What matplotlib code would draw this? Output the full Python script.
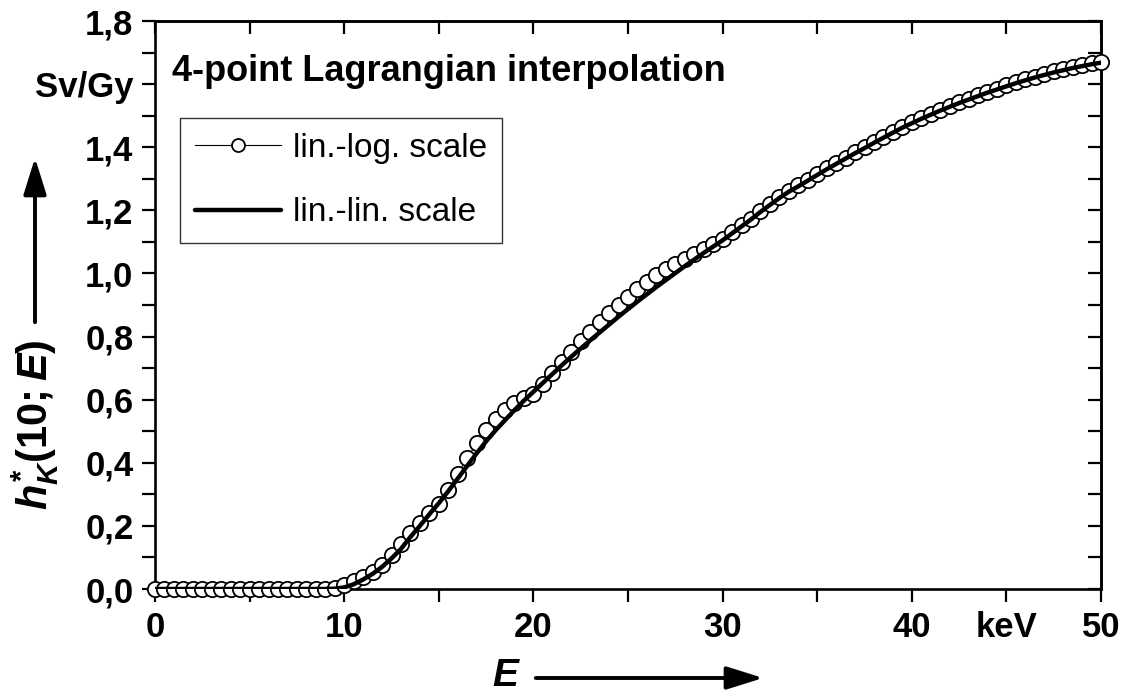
import matplotlib
matplotlib.use("Agg")
import matplotlib.pyplot as plt
import numpy as np

plt.rcParams['font.family'] = ['Liberation Sans', 'DejaVu Sans']
plt.rcParams['mathtext.fontset'] = 'custom'
plt.rcParams['mathtext.rm'] = 'Liberation Sans:bold'
plt.rcParams['mathtext.it'] = 'Liberation Sans:italic:bold'
plt.rcParams['mathtext.bf'] = 'Liberation Sans:bold'

# ---- data ----
energy = [i * 0.5 for i in range(101)]  # keV, 0 ... 50 in 0.5 steps

lin_log = [
    0.0, 0.0, 0.0, 0.0, 0.0, 0.0, 0.0, 0.0, 0.0, 0.0,          # 0.0 - 4.5
    0.0, 0.0, 0.0, 0.0, 0.0, 0.0, 0.0, 0.0, 0.0, 0.003,        # 5.0 - 9.5
    0.012, 0.024, 0.037, 0.053, 0.077, 0.107, 0.142, 0.178, 0.21, 0.24,   # 10.0 - 14.5
    0.268, 0.315, 0.365, 0.415, 0.462, 0.503, 0.54, 0.568, 0.59, 0.605,  # 15.0 - 19.5
    0.618, 0.65, 0.685, 0.718, 0.752, 0.785, 0.816, 0.847, 0.874, 0.9,   # 20.0 - 24.5
    0.926, 0.95, 0.973, 0.995, 1.013, 1.031, 1.047, 1.063, 1.077, 1.092, # 25.0 - 29.5
    1.108, 1.13, 1.152, 1.174, 1.198, 1.22, 1.242, 1.262, 1.279, 1.297,  # 30.0 - 34.5
    1.315, 1.333, 1.35, 1.367, 1.384, 1.4, 1.417, 1.433, 1.449, 1.465,   # 35.0 - 39.5
    1.479, 1.493, 1.506, 1.519, 1.531, 1.543, 1.554, 1.565, 1.576, 1.586, # 40.0 - 44.5
    1.596, 1.606, 1.615, 1.624, 1.632, 1.64, 1.647, 1.654, 1.66, 1.666,  # 45.0 - 49.5
    1.671,                                                              # 50.0
]

lin_lin = [
    0.0, 0.0, 0.0, 0.0, 0.0, 0.0, 0.0, 0.0, 0.0, 0.0,          # 0.0 - 4.5
    0.0, 0.0, 0.0, 0.0, 0.0, 0.0, 0.0, 0.0, 0.0, 0.001,        # 5.0 - 9.5
    0.005, 0.015, 0.03, 0.048, 0.07, 0.097, 0.127, 0.165, 0.2, 0.237,    # 10.0 - 14.5
    0.272, 0.31, 0.35, 0.39, 0.43, 0.468, 0.503, 0.535, 0.567, 0.597,    # 15.0 - 19.5
    0.625, 0.653, 0.681, 0.709, 0.736, 0.762, 0.788, 0.813, 0.838, 0.863, # 20.0 - 24.5
    0.887, 0.911, 0.934, 0.957, 0.979, 1.001, 1.023, 1.044, 1.065, 1.085, # 25.0 - 29.5
    1.105, 1.127, 1.149, 1.171, 1.195, 1.217, 1.239, 1.259, 1.276, 1.294, # 30.0 - 34.5
    1.312, 1.33, 1.347, 1.364, 1.381, 1.397, 1.414, 1.43, 1.446, 1.462,  # 35.0 - 39.5
    1.476, 1.49, 1.503, 1.516, 1.528, 1.54, 1.551, 1.562, 1.573, 1.583,  # 40.0 - 44.5
    1.593, 1.603, 1.612, 1.621, 1.629, 1.637, 1.644, 1.651, 1.657, 1.663, # 45.0 - 49.5
    1.668,                                                              # 50.0
]

x_ticks = [0, 5, 10, 15, 20, 25, 30, 35, 40, 45, 50]
x_tick_labels = ['0', '', '10', '', '20', '', '30', '', '40', 'keV', '50']
y_ticks = [0.0, 0.1, 0.2, 0.3, 0.4, 0.5, 0.6, 0.7, 0.8, 0.9, 1.0,
           1.1, 1.2, 1.3, 1.4, 1.5, 1.6, 1.7, 1.8]
y_tick_labels = ['0,0', '', '0,2', '', '0,4', '', '0,6', '', '0,8', '', '1,0',
                 '', '1,2', '', '1,4', '', 'Sv/Gy', '', '1,8']

series_labels = ['lin.-log. scale', 'lin.-lin. scale']
title_text = '4-point Lagrangian interpolation'

# ---- figure ----
fig = plt.figure(figsize=(11.24, 6.97), dpi=100)
ax = fig.add_axes([155 / 1124, 1 - 589 / 697, (1101 - 155) / 1124, (589 - 21) / 697])

ax.plot(energy, lin_log, '-', color='black', lw=0.8, marker='o', ms=11,
        mfc='white', mec='black', mew=1.3, label=series_labels[0], zorder=3,
        clip_on=False)
ax.plot(energy, lin_lin, '-', color='black', lw=3.2, label=series_labels[1],
        zorder=4, solid_capstyle='round')

ax.set_xlim(0, 50)
ax.set_ylim(0, 1.8)

ax.set_xticks(x_ticks)
ax.set_xticklabels(x_tick_labels)
ax.set_yticks(y_ticks)
ax.set_yticklabels(y_tick_labels)

for lbl in ax.get_xticklabels() + ax.get_yticklabels():
    lbl.set_fontsize(25)
    lbl.set_fontweight('bold')

ax.tick_params(axis='both', which='major', direction='out', length=9.5,
               width=1.6, pad=6)

for sp in ax.spines.values():
    sp.set_linewidth(1.9)

# top / right ticks pointing inward
sec_x = ax.secondary_xaxis('top')
sec_x.set_xticks(x_ticks)
sec_x.set_xticklabels([])
sec_x.tick_params(direction='in', length=9.5, width=1.6)
sec_x.spines['top'].set_linewidth(1.9)
sec_y = ax.secondary_yaxis('right')
sec_y.set_yticks(y_ticks)
sec_y.set_yticklabels([])
sec_y.tick_params(direction='in', length=9.5, width=1.6)
sec_y.spines['right'].set_linewidth(1.9)

ax.text(0.018, 0.894, title_text, transform=ax.transAxes, fontsize=26,
        fontweight='bold', ha='left', va='baseline')

leg = ax.legend(loc='upper left', bbox_to_anchor=(0.026, 0.829), fontsize=24,
                frameon=True, fancybox=False, edgecolor='black',
                handlelength=2.6, handletextpad=0.35, borderpad=0.45,
                labelspacing=1.0, borderaxespad=0.0, markerscale=0.85)
leg.get_frame().set_linewidth(1.0)

# axis labels with arrows
fig.text(35 / 1124, 1 - 425 / 697, r'$h^{*}_{K}(10;E)$', rotation=90,
         fontsize=30, ha='center', va='center')
fig.patches.append(matplotlib.patches.FancyArrowPatch(
    (35 / 1124, 1 - 325 / 697), (35 / 1124, 1 - 155 / 697),
    transform=fig.transFigure, arrowstyle='-|>,head_length=1.6,head_width=0.5',
    mutation_scale=14, lw=2.8, color='black'))

fig.text(505 / 1124, 1 - 676 / 697, 'E', fontsize=28, fontweight='bold',
         fontstyle='italic', ha='center', va='center')
fig.patches.append(matplotlib.patches.FancyArrowPatch(
    (533 / 1124, 1 - 678 / 697), (766 / 1124, 1 - 678 / 697),
    transform=fig.transFigure, arrowstyle='-|>,head_length=1.6,head_width=0.5',
    mutation_scale=14, lw=2.8, color='black'))

fig.savefig('out.png', dpi=100)
